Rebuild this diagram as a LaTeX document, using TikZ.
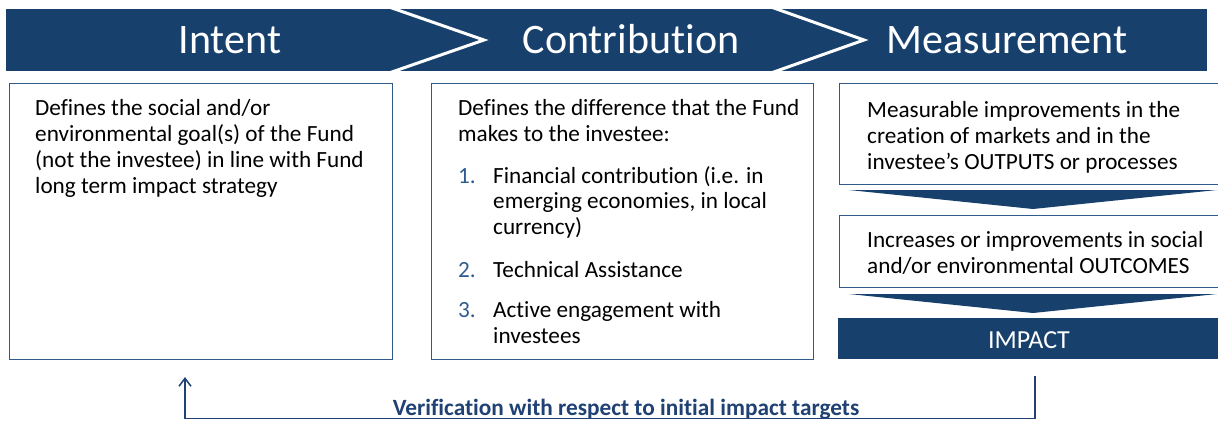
\documentclass[tikz,border=0pt]{standalone}
\usepackage{fontspec}
\setmainfont{Carlito}[Ligatures=NoCommon]
\usetikzlibrary{arrows.meta}
\definecolor{navy}{HTML}{17406D}
\definecolor{boxline}{HTML}{2F5A8A}
\definecolor{numblue}{HTML}{2F5C8F}
\definecolor{conn}{HTML}{1F4173}
\begin{document}
\begin{tikzpicture}[x=1pt,y=-1pt,
  panel/.style={draw=boxline,line width=1.3pt,fill=white,inner sep=0pt,anchor=north west},
  bar/.style={fill=navy,draw=none,inner sep=0pt,anchor=north west},
  txtline/.style={anchor=base west,inner sep=0pt,font=\fontsize{23.2}{27}\selectfont,text=black},
  numline/.style={txtline,text=numblue},
  title/.style={anchor=base,inner sep=0pt,font=\fontsize{42}{48}\selectfont,text=white},
  sep/.style={white,line width=3pt},
  downarrow/.style={fill=navy,draw=none},
  loopline/.style={draw=conn,line width=1.6pt}
]
\clip (0,0) rectangle (1218,421);
\fill[white] (0,0) rectangle (1218,421);

% banner
\node[bar,minimum width=1201pt,minimum height=62pt] (banner) at (6,9) {};
\draw[sep] (389,7) -- (484,40) -- (389,73);
\draw[sep] (771,7) -- (864,40) -- (771,73);
\node[title] (tIntent) at (230,53.5) {Intent};
\node[title] (tContrib) at (631,53.5) {Contribution};
\node[title] (tMeasure) at (1007,53.5) {Measurement};

% box 1
\node[panel,minimum width=383pt,minimum height=276pt] (intent) at (8.5,82.5) {};
\node[txtline] (i1) at (35,115) {Defines the social and/or};
\node[txtline] (i2) at (35,141) {environmental goal(s) of the Fund};
\node[txtline] (i3) at (35,167) {(not the investee) in line with Fund};
\node[txtline] (i4) at (35,193) {long term impact strategy};

% box 2
\node[panel,minimum width=382pt,minimum height=276pt] (contrib) at (430.5,82.5) {};
\node[txtline] (c1) at (458,115) {Defines the difference that the Fund};
\node[txtline] (c2) at (458,141) {makes to the investee:};
\node[numline] (n1) at (458,183) {1.};
\node[txtline] (c3) at (493,183) {Financial contribution (i.e. in};
\node[txtline] (c4) at (493,208) {emerging economies, in local};
\node[txtline] (c5) at (493,234) {currency)};
\node[numline] (n2) at (458,277) {2.};
\node[txtline] (c6) at (493,277) {Technical Assistance};
\node[numline] (n3) at (458,317) {3.};
\node[txtline] (c7) at (493,317) {Active engagement with};
\node[txtline] (c8) at (493,343) {investees};

% column 3
\node[panel,minimum width=390pt,minimum height=101pt] (outputs) at (838.5,83) {};
\node[txtline] (o1) at (867,117) {Measurable improvements in the};
\node[txtline] (o2) at (867,143) {creation of markets and in the};
\node[txtline] (o3) at (867,169) {investee’s OUTPUTS or processes};
\fill[downarrow] (849,190) -- (1217,190) -- (1033,209) -- cycle;
\node[panel,minimum width=390pt,minimum height=72pt] (outcomes) at (838.5,215) {};
\node[txtline] (u1) at (867,247) {Increases or improvements in social};
\node[txtline] (u2) at (867,273) {and/or environmental OUTCOMES};
\fill[downarrow] (849,294) -- (1217,294) -- (1033,313) -- cycle;
\node[bar,minimum width=390pt,minimum height=41pt] (impact) at (838,318) {};
\node[anchor=base,inner sep=0pt,font=\fontsize{26}{30}\selectfont,text=white] (impactlbl) at (1029,348) {IMPACT};

% verification loop
\coordinate (vstart) at (1035,376);
\coordinate (vend) at (185,377);
\draw[loopline,-{Straight Barb[length=8pt,width=12pt,line width=1.5pt]}] (vstart) |- (185,418.5) -- (vend);
\node[anchor=base,inner sep=0pt,font=\bfseries\fontsize{23.3}{27}\selectfont,text=conn] (verif) at (626,415) {Verification with respect to initial impact targets};
\end{tikzpicture}
\end{document}
